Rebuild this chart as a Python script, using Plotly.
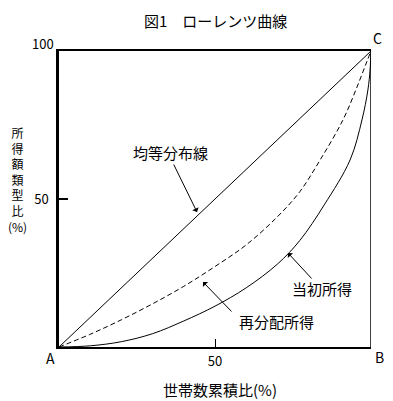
import plotly.graph_objects as go

# --- data ---
equal_x = [0, 100]
equal_y = [0, 100]

redis_x = [0, 10, 20, 30, 40, 50, 60, 70, 77.2, 83.7, 91.0, 95.5, 98.7, 100]
redis_y = [0, 4.3, 9.2, 14.6, 20.5, 27.2, 34.5, 44, 52.5, 63.2, 76.7, 87.8, 96.5, 100]

init_x = [0, 10, 20, 30, 40, 50, 60, 70, 77.2, 85, 93.3, 97.1, 99, 99.7, 100]
init_y = [0, 0.4, 1.8, 4.5, 8.8, 13.8, 20, 28, 36, 48, 63.2, 76.7, 86.8, 93.6, 100]

x_ticks = [50]
y_ticks = [50]
title_text = "図1　ローレンツ曲線"
x_title = "世帯数累積比(%)"
y_title = "所<br>得<br>額<br>類<br>型<br>比<br>(%)"

FONT = "Noto Sans CJK JP, Liberation Sans, sans-serif"
OFF = 8  # page body margin
W, H = 393 - OFF, 401 - OFF
# plot area in screen pixels: x 59..371, y 51..347
L, R, T, B = 59 - OFF, 393 - 371, 51 - OFF, 401 - 347
PW, PH = W - L - R, H - T - B

def px2paper(px, py):
    fx, fy = px - OFF, py - OFF
    return (fx - L) / PW, (H - B - fy) / PH

fig = go.Figure()
fig.add_trace(go.Scatter(x=equal_x, y=equal_y, mode="lines",
                         line=dict(color="black", width=1), hoverinfo="skip"))
fig.add_trace(go.Scatter(x=redis_x, y=redis_y, mode="lines", line_shape="spline",
                         line=dict(color="black", width=1, dash="5px,3px"), hoverinfo="skip"))
fig.add_trace(go.Scatter(x=init_x, y=init_y, mode="lines", line_shape="spline",
                         line=dict(color="black", width=1), hoverinfo="skip"))

ann = []
def text_ann(text, px, py, size=14, **kw):
    xp, yp = px2paper(px, py)
    d = dict(text=text, x=xp, y=yp, xref="paper", yref="paper", showarrow=False,
             xanchor="center", yanchor="middle", font=dict(size=size, color="black", family=FONT))
    d.update(kw)
    ann.append(d)

def arrow_ann(tip, tail):
    tx, ty = px2paper(*tip)
    sx, sy = px2paper(*tail)
    ann.append(dict(text="", x=tx * 100, y=ty * 100, ax=sx * 100, ay=sy * 100,
                    xref="x", yref="y", axref="x", ayref="y", showarrow=True,
                    arrowhead=1, arrowsize=1.2, arrowwidth=1, arrowcolor="black", standoff=0))

text_ann(title_text, 215, OFF, size=15, yanchor="top")
text_ann("100", 43, 43, size=13)
text_ann("A", 50, 358, size=14)
text_ann("B", 380, 357, size=14)
text_ann("C", 377, 38, size=14)
text_ann(x_title, 220, 389, size=15)
text_ann(y_title, 17, 179, size=12)

text_ann("均等分布線", 170, 152, size=15)
arrow_ann((197, 212), (173, 163))
text_ann("当初所得", 322, 288, size=15)
arrow_ann((288, 253), (313, 280))
text_ann("再分配所得", 276, 321, size=15)
arrow_ann((203, 282), (233, 313))

fig.update_layout(
    width=W, height=H, margin=dict(l=L, r=R, t=T, b=B),
    paper_bgcolor="white", plot_bgcolor="white", showlegend=False,
    font=dict(family=FONT, color="black", size=13),
    annotations=ann,
    shapes=[dict(type="line", xref="x", yref="y", x0=100, x1=100, y0=0, y1=100,
                 line=dict(color="black", width=1.5))],
)
fig.update_xaxes(range=[0, 100], showgrid=False, zeroline=False, showline=True,
                 linecolor="black", linewidth=1.5, mirror=True, ticks="inside",
                 tickvals=x_ticks, ticktext=[str(v) for v in x_ticks], ticklen=8,
                 tickcolor="black", tickfont=dict(size=13), ticklabelstandoff=2,
                 fixedrange=True)
fig.update_yaxes(range=[0, 100], showgrid=False, zeroline=False, showline=True,
                 linecolor="black", linewidth=2.5, mirror=False, ticks="inside",
                 tickvals=y_ticks, ticktext=[str(v) for v in y_ticks], ticklen=9,
                 tickwidth=2, tickcolor="black", tickfont=dict(size=13), ticklabelstandoff=5,
                 fixedrange=True)

fig.write_html("out.html")
